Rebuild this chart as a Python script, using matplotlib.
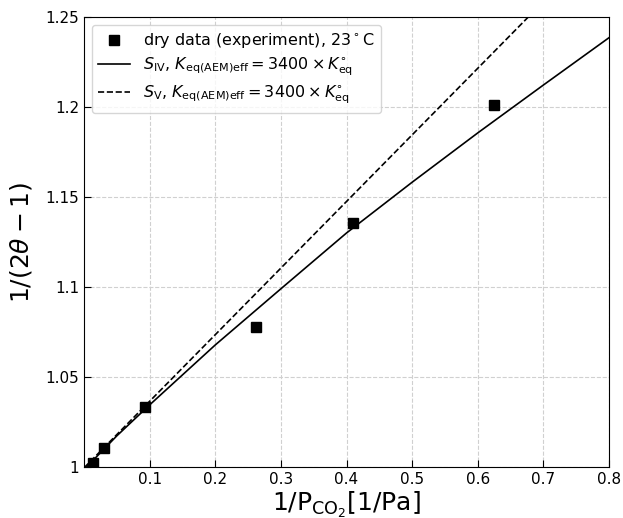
import matplotlib
matplotlib.use('Agg')
from matplotlib import pyplot as plt

# experimental points (dry, 23 C)
x_exp = [0.0136, 0.0299, 0.0935, 0.262, 0.410, 0.624]
y_exp = [1.0022, 1.0104, 1.0332, 1.0780, 1.1358, 1.2012]

# model S_IV (solid curve)
x_s4 = [0.0, 0.05, 0.1, 0.2, 0.3, 0.4, 0.5, 0.6, 0.7, 0.8]
y_s4 = [0.9985, 1.0173, 1.0345, 1.0678, 1.0990, 1.1300, 1.1582, 1.1856, 1.2122, 1.2385]

# model S_V (dashed line)
x_s5 = [0.0, 0.2, 0.4, 0.6, 0.8]
y_s5 = [0.9995, 1.0735, 1.1475, 1.2215, 1.2955]

xticks = [0.1, 0.2, 0.3, 0.4, 0.5, 0.6, 0.7, 0.8]
yticks = [1.0, 1.05, 1.1, 1.15, 1.2, 1.25]
ytick_labels = ['1', '1.05', '1.1', '1.15', '1.2', '1.25']

fig = plt.figure(figsize=(6.23, 5.18), dpi=100)
ax = fig.add_axes([84/623, 1 - 467/518, 525/623, 450/518])

ax.plot(x_exp, y_exp, 's', color='black', markersize=6.5,
        label=r'dry data (experiment), 23$^\circ$C')
ax.plot(x_s4, y_s4, '-', color='black', lw=1.2,
        label=r'$S_{\rm IV}$, $K_{\rm eq(AEM)eff} = 3400 \times K_{\rm eq}^{\circ}$')
ax.plot(x_s5, y_s5, '--', color='black', lw=1.2,
        label=r'$S_{\rm V}$, $K_{\rm eq(AEM)eff} = 3400 \times K_{\rm eq}^{\circ}$')

ax.set_xlim(0.0, 0.8)
ax.set_ylim(1.0, 1.25)
ax.set_xticks(xticks)
ax.set_xticklabels(['%g' % t for t in xticks])
ax.set_yticks(yticks)
ax.set_yticklabels(ytick_labels)
ax.tick_params(direction='in', labelsize=11, length=5)
ax.grid(True, linestyle='--', color='#d0d0d0', lw=0.8)
ax.set_axisbelow(True)

ax.set_xlabel(r'$\mathrm{1/P_{CO_2}[1/Pa]}$', fontsize=18, labelpad=2)
ax.set_ylabel(r'$1/(2\theta-1)$', fontsize=18, labelpad=8)

ax.legend(loc='upper left', fontsize=11.5, borderaxespad=0.5,
          handlelength=2.0, labelspacing=0.35)

fig.savefig('out.png', dpi=100)
